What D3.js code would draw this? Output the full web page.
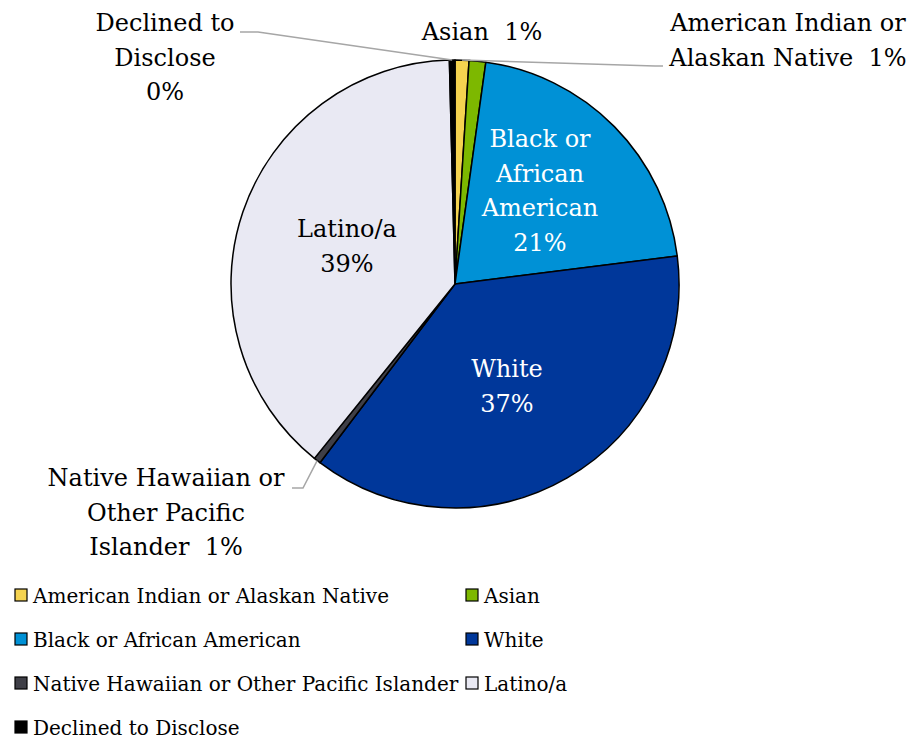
<!DOCTYPE html>
<html>
<head>
<meta charset="utf-8">
<script src="https://cdn.jsdelivr.net/npm/d3@7"></script>
<style>
  html, body { margin: 0; padding: 0; background: #fff; }
  svg text { font-family: "DejaVu Serif", serif; white-space: pre; }
</style>
</head>
<body>
<svg id="chart" width="915" height="740"></svg>
<script>
// Race / ethnicity breakdown (percent of total)
const categories = [
  "American Indian or Alaskan Native",
  "Asian",
  "Black or African American",
  "White",
  "Native Hawaiian or Other Pacific Islander",
  "Latino/a",
  "Declined to Disclose"
];
const values = [1.0, 1.2, 20.8, 37.3, 0.5, 38.8, 0.4];
const colors = ["#F5D350", "#7DB800", "#0091D6", "#00379A", "#3F3F47", "#E9E9F3", "#000000"];

// label text lines for each slice (the percentage is appended from the value)
const labelLines = [
  ["American Indian or", "Alaskan Native  "],
  ["Asian  "],
  ["Black or", "African", "American", ""],
  ["White", ""],
  ["Native Hawaiian or", "Other Pacific", "Islander  "],
  ["Latino/a", ""],
  ["Declined to", "Disclose", ""]
];

const svg = d3.select("#chart");
const cx = 455, cy = 284, r = 224;
const total = d3.sum(values);
const pctText = v => Math.round(v / total * 100) + "%";

const pie = d3.pie().sort(null).value(d => d.value);
const data = categories.map((c, i) => ({ name: c, value: values[i], color: colors[i], lines: labelLines[i] }));
const arcs = pie(data);
const arc = d3.arc().innerRadius(0).outerRadius(r);
const edgeArc = d3.arc().innerRadius(r).outerRadius(r);

const g = svg.append("g").attr("transform", `translate(${cx},${cy})`);
g.selectAll("path.slice")
  .data(arcs)
  .join("path")
  .attr("class", "slice")
  .attr("d", arc)
  .attr("fill", d => d.data.color)
  .attr("stroke", "#000")
  .attr("stroke-width", 1.5)
  .attr("stroke-linejoin", "round");

// label placement: center of the text block, first baseline, colour, leader
const labelLayout = [
  { x: 788, y: 31, fill: "#000", leader: [[663, 66], [655, 66]] },
  { x: 482, y: 40, fill: "#000", leader: null },
  { x: 540, y: 147, fill: "#fff", leader: null },
  { x: 507, y: 377, fill: "#fff", leader: null },
  { x: 166, y: 486, fill: "#000", leader: [[292, 488], [303, 488]] },
  { x: 347, y: 237, fill: "#000", leader: null },
  { x: 165, y: 31, fill: "#000", leader: [[240, 32], [258, 32]] }
];
const lineGap = 34.6;

// leader lines go to the middle of each slice's outer edge
arcs.forEach((a, i) => {
  const L = labelLayout[i];
  if (!L.leader) return;
  const [ex, ey] = edgeArc.centroid(a);
  const pts = L.leader.concat([[cx + ex, cy + ey]]);
  svg.append("path")
    .attr("d", d3.line()(pts))
    .attr("fill", "none")
    .attr("stroke", "#A6A6A6")
    .attr("stroke-width", 1.5);
});

arcs.forEach((a, i) => {
  const L = labelLayout[i];
  const lines = a.data.lines.slice();
  lines[lines.length - 1] = lines[lines.length - 1] + pctText(a.data.value);
  const t = svg.append("text")
    .attr("text-anchor", "middle")
    .attr("fill", L.fill)
    .attr("font-size", 24);
  lines.forEach((ln, k) => {
    t.append("tspan").attr("x", L.x).attr("y", L.y + k * lineGap).text(ln);
  });
});

// legend, two columns
const legendCols = [15, 466];
const legendRows = [595, 639, 683, 727];
const legend = svg.append("g");
data.forEach((d, i) => {
  const x = legendCols[i % 2], y = legendRows[Math.floor(i / 2)];
  legend.append("rect")
    .attr("x", x).attr("y", y - 6).attr("width", 12).attr("height", 12)
    .attr("fill", d.color).attr("stroke", "#000").attr("stroke-width", 1.2);
  legend.append("text")
    .attr("x", x + 18).attr("y", y + 7.5)
    .attr("font-size", 20)
    .attr("fill", "#000")
    .text(d.name);
});
</script>
</body>
</html>
